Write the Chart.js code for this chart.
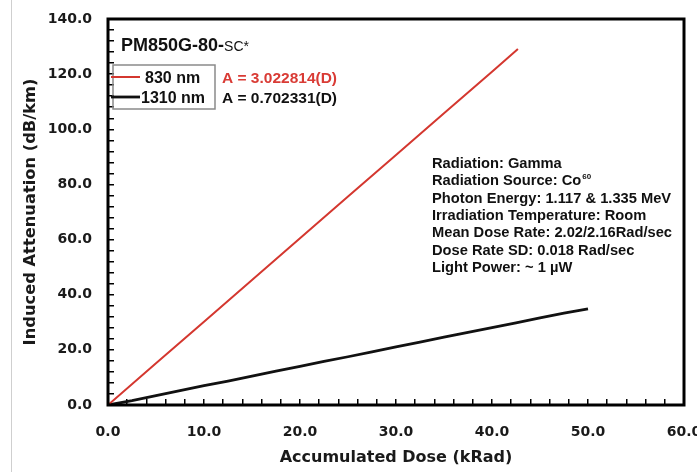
<!DOCTYPE html>
<html>
<head>
<meta charset="utf-8">
<script src="https://cdn.jsdelivr.net/npm/chart.js@4/dist/chart.umd.min.js"></script>
<style>
  body { margin: 0; background: #fff; }
  #wrap { position: relative; width: 697px; height: 472px; }
  #edge { position: absolute; left: 11px; top: 0; width: 1px; height: 472px; background: #cfcfcf; }
</style>
</head>
<body>
<div id="wrap">
  <canvas id="chart" width="697" height="472"></canvas>
  <div id="edge"></div>
</div>
<script>
const dose830 = [0, 5, 10, 15, 20, 25, 30, 35, 40, 42.7];
const atten830 = [0, 15.1, 30.2, 45.3, 60.5, 75.6, 90.7, 105.8, 120.9, 129.1];
const dose1310 = [0, 2.5, 5, 7.5, 10, 12.5, 15, 17.5, 20, 22.5, 25, 27.5, 30, 32.5, 35, 37.5, 40, 42.5, 45, 47.5, 50];
const atten1310 = [0, 1.6, 3.4, 5.2, 7.0, 8.7, 10.5, 12.3, 14.0, 15.8, 17.5, 19.3, 21.1, 22.8, 24.6, 26.3, 28.1, 29.8, 31.6, 33.3, 34.9];

const seriesNames = ["830 nm", "1310 nm"];
const fitLabels = ["A = 3.022814(D)", "A = 0.702331(D)"];
const seriesColors = ["#d4372f", "#111111"];
const fiberName = ["PM850G-80-", "SC*"];
const infoLines = [
  "Radiation: Gamma",
  "Radiation Source: Co",
  "Photon Energy: 1.117 & 1.335 MeV",
  "Irradiation Temperature: Room",
  "Mean Dose Rate: 2.02/2.16Rad/sec",
  "Dose Rate SD: 0.018 Rad/sec",
  "Light Power: ~ 1 \u00b5W",
];

const toPoints = (xs, ys) => xs.map((x, i) => ({ x, y: ys[i] }));

const TICK_FONT = { family: "DejaVu Sans", size: 14, weight: "bold" };

// frame and in-plot annotations
const annotations = {
  id: "annotations",
  afterDraw(chart) {
    const { ctx, chartArea: a } = chart;
    ctx.save();
    ctx.strokeStyle = "#000";
    ctx.lineWidth = 3;
    ctx.strokeRect(a.left, a.top, a.right - a.left, a.bottom - a.top);

    ctx.textBaseline = "alphabetic";
    ctx.fillStyle = "#111";
    ctx.font = "bold 18px 'Liberation Sans'";
    ctx.fillText(fiberName[0], 121, 51);
    const w = ctx.measureText(fiberName[0]).width;
    ctx.font = "14px 'Liberation Sans'";
    ctx.fillText(fiberName[1], 121 + w, 51);

    // legend box
    ctx.strokeStyle = "#8a8a8a";
    ctx.lineWidth = 1.5;
    ctx.strokeRect(113, 65, 102, 44);
    chart.data.datasets.forEach((ds, i) => {
      const y = 77 + i * 20;
      ctx.strokeStyle = ds.borderColor;
      ctx.lineWidth = ds.borderWidth;
      ctx.beginPath();
      ctx.moveTo(111, y);
      ctx.lineTo(140, y);
      ctx.stroke();
      ctx.fillStyle = "#111";
      ctx.font = "bold 16px 'Liberation Sans'";
      ctx.fillText(ds.label, i === 0 ? 145 : 141, y + 6);
      ctx.fillStyle = i === 0 ? "#d93b35" : "#111";
      ctx.font = "bold 15.5px 'Liberation Sans'";
      ctx.fillText(fitLabels[i], 222, y + 6);
    });

    ctx.fillStyle = "#111";
    infoLines.forEach((line, i) => {
      const y = 168 + i * 17.3;
      ctx.font = "bold 14.7px 'Liberation Sans'";
      ctx.fillText(line, 432, y);
      if (i === 1) {
        const lw = ctx.measureText(line).width;
        ctx.font = "bold 8px 'Liberation Sans'";
        ctx.fillText("60", 432 + lw + 1, y - 6);
      }
    });
    ctx.restore();
  },
};

new Chart(document.getElementById("chart"), {
  type: "scatter",
  data: {
    datasets: [
      {
        label: seriesNames[0],
        data: toPoints(dose830, atten830),
        showLine: true,
        borderColor: seriesColors[0],
        borderWidth: 2,
        pointRadius: 0,
      },
      {
        label: seriesNames[1],
        data: toPoints(dose1310, atten1310),
        showLine: true,
        borderColor: seriesColors[1],
        borderWidth: 2.8,
        pointRadius: 0,
      },
    ],
  },
  options: {
    responsive: false,
    animation: false,
    layout: { padding: { left: 0, right: 13, top: 19, bottom: 0 } },
    plugins: { legend: { display: false }, tooltip: { enabled: false } },
    scales: {
      x: {
        type: "linear",
        min: 0,
        max: 60,
        border: { display: false },
        grid: { drawOnChartArea: false, tickLength: -6, color: "#000", lineWidth: 1.5 },
        ticks: {
          stepSize: 2,
          autoSkip: false,
          maxRotation: 0,
          padding: 25,
          color: "#1a1a1a",
          font: TICK_FONT,
          callback: (v) => (Math.abs(v % 10) < 1e-6 ? v.toFixed(1) : ""),
        },
        title: {
          display: true,
          text: "Accumulated Dose (kRad)",
          color: "#1a1a1a",
          font: { family: "DejaVu Sans", size: 16, weight: "bold" },
          padding: { top: 0, bottom: 5 },
        },
        afterFit: (s) => {
          s.height = 67;
          s.paddingLeft = 0;
          s.paddingRight = 0;
        },
      },
      y: {
        type: "linear",
        min: 0,
        max: 140,
        border: { display: false },
        grid: { drawOnChartArea: false, tickLength: -6, color: "#000", lineWidth: 1.5 },
        ticks: {
          stepSize: 4,
          autoSkip: false,
          padding: 22,
          color: "#1a1a1a",
          font: TICK_FONT,
          callback: (v) => (Math.abs(v % 20) < 1e-6 ? v.toFixed(1) : ""),
        },
        title: {
          display: true,
          text: "Induced Attenuation (dB/km)",
          color: "#1a1a1a",
          font: { family: "DejaVu Sans", size: 16.3, weight: "bold" },
          padding: { top: 21, bottom: 0 },
        },
        afterFit: (s) => {
          s.width = 108;
          s.paddingTop = 0;
          s.paddingBottom = 0;
        },
      },
    },
  },
  plugins: [annotations],
});
</script>
</body>
</html>
